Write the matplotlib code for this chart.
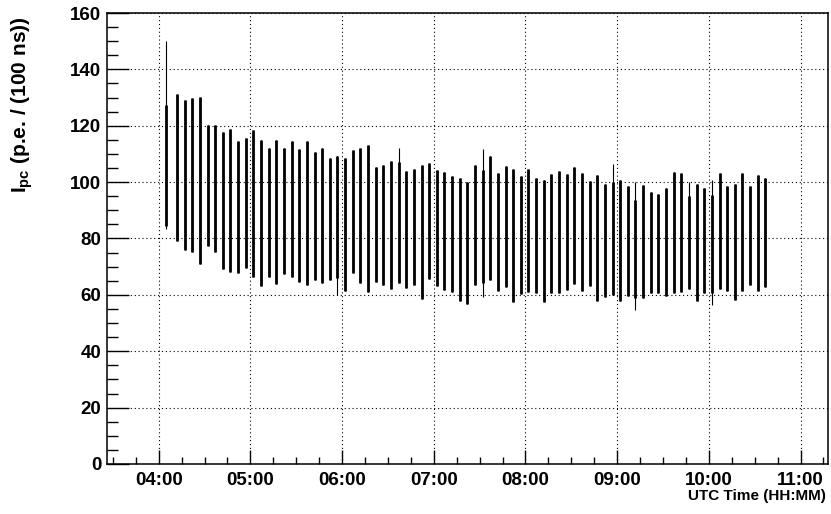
"""
Photocathode current I_pc versus UTC time, one vertical band per 5-minute run.
"""

import matplotlib
matplotlib.use("Agg")
import matplotlib.pyplot as plt
from matplotlib.ticker import MultipleLocator, FuncFormatter

plt.rcParams["font.family"] = ["Liberation Sans", "DejaVu Sans"]
plt.rcParams["font.weight"] = "bold"
plt.rcParams["mathtext.fontset"] = "custom"
plt.rcParams["mathtext.rm"] = "Liberation Sans:bold"
plt.rcParams["mathtext.bf"] = "Liberation Sans:bold"

# ============================================================
# Data (times in UTC, values in p.e./100 ns)
# ============================================================

run_times = [
    "04:05", "04:12", "04:17", "04:22", "04:27", "04:32", "04:37", "04:42", "04:47", "04:52", "04:57",
    "05:02", "05:07", "05:12", "05:17", "05:22", "05:27", "05:32", "05:37", "05:42", "05:47", "05:52", "05:57",
    "06:02", "06:07", "06:12", "06:17", "06:22", "06:27", "06:32", "06:37", "06:42", "06:47", "06:52", "06:57",
    "07:02", "07:07", "07:12", "07:17", "07:22", "07:27", "07:32", "07:37", "07:42", "07:47", "07:52", "07:57",
    "08:02", "08:07", "08:12", "08:17", "08:22", "08:27", "08:32", "08:37", "08:42", "08:47", "08:52", "08:57",
    "09:02", "09:07", "09:12", "09:17", "09:22", "09:27", "09:32", "09:37", "09:42", "09:47", "09:52", "09:57",
    "10:02", "10:07", "10:12", "10:17", "10:22", "10:27", "10:32", "10:37",
]

# maximum value reached in each run
i_max = [
    149.9, 131.4, 129.3, 130.0, 130.2, 120.2, 120.2, 117.9, 118.7, 114.6, 115.5,
    118.5, 114.9, 112.1, 114.9, 112.1, 114.5, 111.8, 114.5, 110.6, 112.1, 108.6, 109.3,
    108.6, 111.4, 112.1, 113.1, 105.3, 106.0, 107.5, 112.0, 104.1, 104.6, 106.1, 106.9,
    104.4, 103.6, 102.2, 101.3, 99.9, 106.2, 111.6, 109.3, 103.4, 105.8, 104.6,
    102.2, 104.6, 101.5, 100.8, 102.9, 103.9, 102.9, 105.3, 103.2, 100.4, 102.5, 99.4,
    106.5, 100.8, 98.7, 100.1, 98.9, 96.4, 95.9, 97.8, 103.6, 103.4, 100.1, 99.2,
    98.0, 100.8, 103.4, 98.7, 99.2, 103.2, 98.7, 102.7, 101.3,
]

# minimum value reached in each run
i_min = [
    83.2, 79.1, 75.8, 75.2, 70.8, 77.3, 75.2, 69.3, 68.1, 67.9, 69.6,
    66.5, 63.2, 66.5, 63.9, 67.4, 66.5, 64.4, 63.6, 65.1, 64.1, 65.1, 60.0,
    61.2, 67.6, 64.1, 61.1, 64.7, 63.6, 62.0, 64.2, 62.5, 63.6, 58.7, 65.6,
    63.2, 61.8, 61.1, 58.0, 56.8, 63.6, 59.4, 65.3, 61.3, 62.7, 57.5,
    60.4, 61.1, 60.6, 57.3, 60.6, 60.6, 61.8, 63.9, 61.5, 63.2, 58.0, 59.4,
    60.0, 58.0, 59.6, 54.7, 58.8, 60.8, 60.6, 59.6, 60.6, 61.1, 62.2, 58.0,
    60.6, 56.5, 62.2, 61.3, 58.2, 61.5, 63.4, 61.5, 62.7,
]

# runs whose dense core is clearly shorter than the full range: index -> (core_min, core_max)
dense_core = {
    0: (84.4, 127.3),
    22: (65.9, 109.3),
    30: (64.2, 107.1),
    41: (64.1, 104.4),
    58: (60.0, 100.0),
    61: (58.8, 93.8),
    68: (62.2, 95.2),
    71: (60.6, 95.3),
}

y_ticks = [0, 20, 40, 60, 80, 100, 120, 140, 160]
x_hours = [4, 5, 6, 7, 8, 9, 10, 11]


def to_hours(hhmm):
    h, m = hhmm.split(":")
    return int(h) + int(m) / 60.0


t = [to_hours(s) for s in run_times]

# ============================================================
# Figure
# ============================================================

fig = plt.figure(figsize=(8.31, 5.14), dpi=100)
ax = fig.add_axes([0.1284, 0.0973, 0.8680, 0.8774])

# thin full-range lines, then a thicker core for each run
ax.vlines(t, i_min, i_max, color="black", linewidth=0.8)
core_lo = [dense_core.get(k, (i_min[k], i_max[k]))[0] for k in range(len(t))]
core_hi = [dense_core.get(k, (i_min[k], i_max[k]))[1] for k in range(len(t))]
ax.vlines(t, core_lo, core_hi, color="black", linewidth=2.0)

ax.set_xlim(to_hours("03:26"), to_hours("11:18"))
ax.set_ylim(0, 160)

ax.set_xticks(x_hours)
ax.xaxis.set_major_formatter(FuncFormatter(lambda v, p: "%02d:00" % int(round(v))))
ax.xaxis.set_minor_locator(MultipleLocator(0.25))
ax.set_yticks(y_ticks)
ax.yaxis.set_minor_locator(MultipleLocator(5))

ax.tick_params(axis="both", which="both", direction="in", top=False, right=False,
               labelsize=13.5, width=1.0)
ax.tick_params(axis="y", which="major", length=16, pad=4)
ax.tick_params(axis="y", which="minor", length=8)
ax.tick_params(axis="x", which="major", length=10, pad=6)
ax.tick_params(axis="x", which="minor", length=5)
for lab in ax.get_xticklabels() + ax.get_yticklabels():
    lab.set_fontweight("bold")

ax.grid(True, which="major", color="black", linestyle=(0, (1, 2.5)), linewidth=0.8)
for sp in ax.spines.values():
    sp.set_linewidth(1.1)

fig.text(0.994, 0.035, "UTC Time (HH:MM)", ha="right", va="center",
         fontsize=11, fontweight="bold")
fig.text(0.027, 0.796, r"$\mathbf{I_{pc}}$ (p.e. / (100 ns))", rotation=90,
         ha="center", va="center", fontsize=15, fontweight="bold")

fig.savefig("out.png", dpi=100)
